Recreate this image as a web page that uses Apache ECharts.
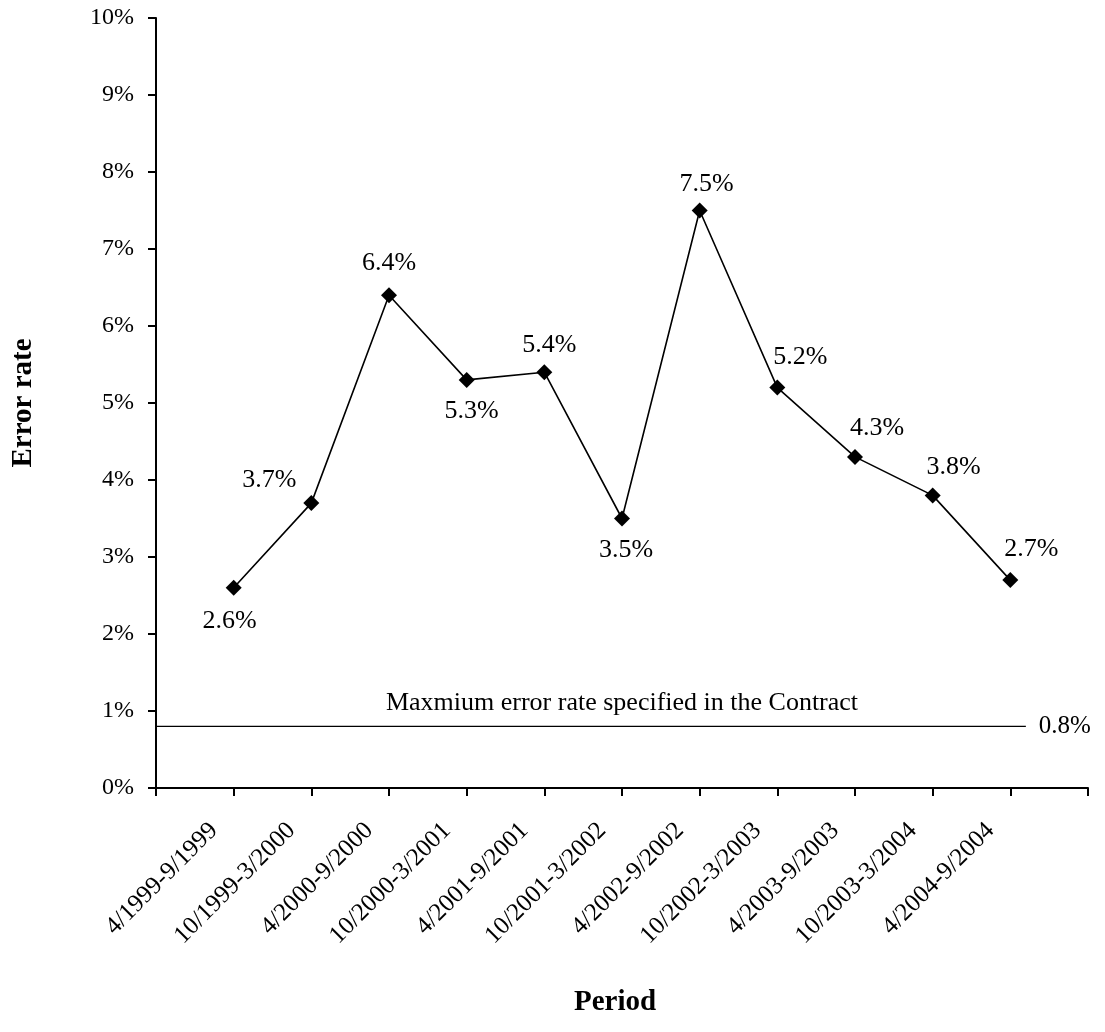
<!DOCTYPE html>
<html>
<head>
<meta charset="utf-8">
<script src="https://cdn.jsdelivr.net/npm/echarts@6/dist/echarts.min.js"></script>
<style>
  html, body { margin: 0; padding: 0; background: #fff; }
  #chart { width: 1105px; height: 1032px; }
</style>
</head>
<body>
<div id="chart"></div>
<script>
// Half-year periods (blank slots at both ends pad the axis)
const periods = ['', '4/1999-9/1999', '10/1999-3/2000', '4/2000-9/2000', '10/2000-3/2001',
  '4/2001-9/2001', '10/2001-3/2002', '4/2002-9/2002', '10/2002-3/2003',
  '4/2003-9/2003', '10/2003-3/2004', '4/2004-9/2004', ''];
// Error rate per period, in percent
const errorRates = [null, 2.6, 3.7, 6.4, 5.3, 5.4, 3.5, 7.5, 5.2, 4.3, 3.8, 2.7, null];
// Where each value label sits relative to its marker [dx, dy]
const labelOffsets = [null, [-4, 33], [-42, -23], [0, -32], [5, 31], [5, -27], [4, 32],
  [7, -26], [23, -30], [22, -29], [21, -28], [21, -31], null];
// Contract maximum error rate, percent
const contractMax = 0.8;
const contractCaption = 'Maxmium error rate specified in the Contract';
const yTicks = [0, 1, 2, 3, 4, 5, 6, 7, 8, 9, 10];

const FONT = '"Liberation Serif", "Times New Roman", serif';
const FS = 24;      // y tick labels
const FS_CAT = 25;  // period labels
const FS_VAL = 26;  // value labels
const FS_TITLE = 29;

const chart = echarts.init(document.getElementById('chart'), null, { renderer: 'canvas' });

const seriesData = errorRates.map((v, i) => {
  if (v === null) return null;
  return {
    value: v,
    label: {
      show: true,
      position: 'inside',
      offset: labelOffsets[i],
      formatter: (p) => p.value.toFixed(1) + '%',
      color: '#000',
      fontFamily: FONT,
      fontSize: FS_VAL
    }
  };
});

chart.setOption({
  animation: false,
  backgroundColor: '#fff',
  grid: { left: 156, top: 18, right: 17, bottom: 244, containLabel: false },
  xAxis: [{
    type: 'category',
    data: periods,
    boundaryGap: false,
    name: 'Period',
    nameLocation: 'middle',
    nameGap: 200,
    nameTextStyle: {
      fontFamily: FONT, fontSize: FS_TITLE, fontWeight: 'bold', color: '#000',
      verticalAlign: 'top', padding: [0, 14, 0, 0]
    },
    axisLine: { lineStyle: { color: '#000', width: 2 } },
    axisTick: { show: true, length: 8, inside: false, alignWithLabel: true, interval: 0, lineStyle: { color: '#000', width: 2 } },
    axisLabel: {
      interval: 0, rotate: 45, margin: 19, padding: [0, 28, 0, 0],
      color: '#000', fontFamily: FONT, fontSize: FS_CAT
    },
    splitLine: { show: false }
  }, {
    type: 'value',
    min: 0, max: periods.length - 1,
    show: false
  }],
  yAxis: {
    type: 'value',
    min: 0, max: yTicks[yTicks.length - 1], interval: 1,
    name: 'Error rate',
    nameLocation: 'middle',
    nameGap: 118,
    nameRotate: 90,
    nameTextStyle: { fontFamily: FONT, fontSize: FS_TITLE, fontWeight: 'bold', color: '#000' },
    axisLine: { show: true, lineStyle: { color: '#000', width: 2 } },
    axisTick: { show: true, length: 8, lineStyle: { color: '#000', width: 2 } },
    axisLabel: { margin: 22, formatter: '{value}%', color: '#000', fontFamily: FONT, fontSize: FS },
    splitLine: { show: false }
  },
  series: [{
    type: 'line',
    xAxisIndex: 0,
    data: seriesData,
    symbol: 'diamond',
    symbolSize: 16,
    itemStyle: { color: '#000' },
    lineStyle: { color: '#000', width: 1.6 },
    connectNulls: false,
    z: 3
  }, {
    type: 'line',
    xAxisIndex: 1,
    data: [[0, contractMax], [11.2, contractMax]],
    symbol: 'none',
    lineStyle: { color: '#000', width: 1.2 },
    endLabel: {
      show: true,
      formatter: contractMax + '%',
      distance: 13,
      color: '#000', fontFamily: FONT, fontSize: FS_CAT
    },
    markLine: {
      silent: true,
      symbol: 'none',
      lineStyle: { color: 'rgba(0,0,0,0)', width: 0 },
      label: {
        show: true,
        position: 'insideMiddleTop',
        distance: 10,
        formatter: contractCaption,
        color: '#000', fontFamily: FONT, fontSize: 26
      },
      data: [[{ coord: [0, contractMax] }, { coord: [periods.length - 1, contractMax] }]]
    }
  }]
});
</script>
</body>
</html>
